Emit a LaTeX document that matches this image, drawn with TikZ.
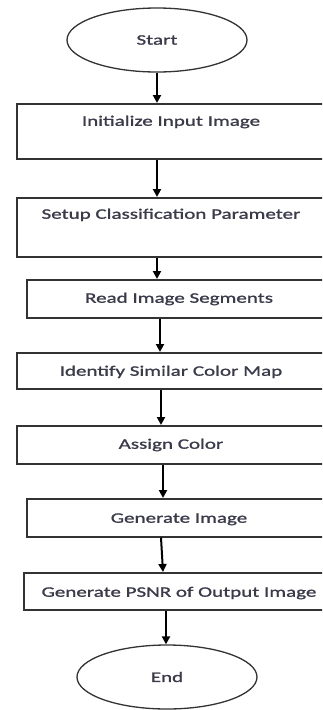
\documentclass[tikz,border=0pt]{standalone}
\usepackage{fontspec}
\setmainfont{Carlito}[FakeStretch=1.45,FakeBold=1.2]
\usetikzlibrary{arrows.meta,shapes.geometric}
\definecolor{txt}{HTML}{3A3A4A}
\definecolor{brd}{HTML}{333333}
\tikzset{
  flowbox/.style={draw=brd, line width=1.5pt, rectangle, inner sep=0pt, anchor=north,
    font=\fontsize{14.5}{16}\selectfont, text=txt},
  term/.style={draw=brd, line width=1.3pt, ellipse, inner sep=0pt,
    minimum width=180pt, minimum height=64pt, font=\fontsize{14.5}{16}\selectfont, text=txt},
  arr/.style={line width=2pt, -{Triangle[length=8pt,width=8pt]}}
}
\begin{document}
\begin{tikzpicture}[x=1pt,y=-1pt]
\useasboundingbox (0,0) rectangle (322,710);
\clip (0,0) rectangle (322,710);
\fill[white] (0,0) rectangle (322,710);
\node[term] (s) at (157,40) {Start};
\node[flowbox, minimum width=308pt, text height=22pt, text depth=33pt] (b1) at (171,103) {Initialize Input Image};
\node[flowbox, minimum width=308pt, text height=21pt, text depth=38pt] (b2) at (171,197) {Setup Classification Parameter};
\node[flowbox, minimum width=304pt, text height=23pt, text depth=15pt] (b3) at (179,279) {Read Image Segments};
\node[flowbox, minimum width=308pt, text height=23pt, text depth=13pt] (b4) at (171,352) {Identify Similar Color Map};
\node[flowbox, minimum width=308pt, text height=23pt, text depth=15pt] (b5) at (171,425) {Assign Color};
\node[flowbox, minimum width=304pt, text height=24pt, text depth=14pt] (b6) at (179,498) {Generate Image};
\node[flowbox, minimum width=310pt, text height=24pt, text depth=13pt] (b7) at (179,572) {Generate PSNR of Output Image};
\node[term] (e) at (167,677) {End};
\draw[arr] (s.south) -- ([xshift=-14pt]b1.north);
\draw[arr] ([xshift=-14pt]b1.south) -- ([xshift=-14pt]b2.north);
\draw[arr] ([xshift=-14pt]b2.south) -- ([xshift=-22pt]b3.north);
\draw[arr] ([xshift=-19pt]b3.south) -- ([xshift=-11pt]b4.north);
\draw[arr] ([xshift=-10pt]b4.south) -- ([xshift=-10pt]b5.north);
\draw[arr] ([xshift=-8pt]b5.south) -- ([xshift=-16pt]b6.north);
\draw[arr] ([xshift=-18pt]b6.south) -- ([xshift=-16pt]b7.north);
\draw[arr] ([xshift=-13pt]b7.south) -- ([xshift=-1pt]e.north);
\end{tikzpicture}
\end{document}
